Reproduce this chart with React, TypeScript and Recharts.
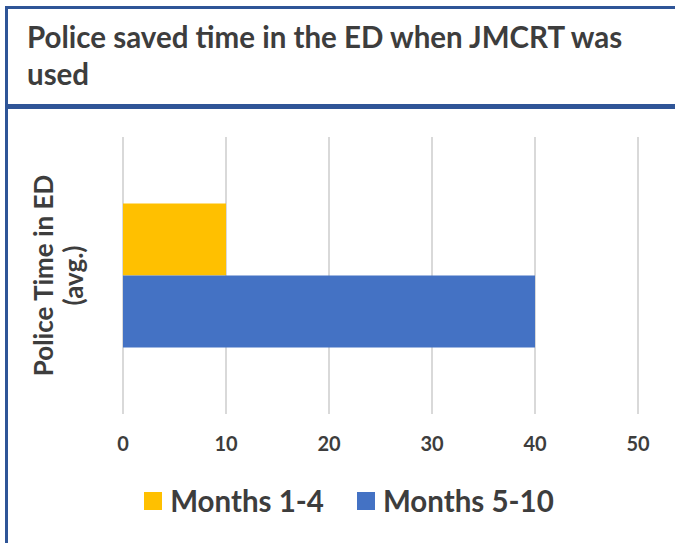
import React from "react";
import { BarChart, Bar, XAxis, YAxis, CartesianGrid, Legend, Label } from "recharts";

const categories = ["Police Time in ED (avg.)"];
const months1to4 = [10];
const months5to10 = [40];
const xTicks = [0, 10, 20, 30, 40, 50];
const seriesNames = ["Months 1-4", "Months 5-10"];
const titleText = "Police saved time in the ED when JMCRT was used";
const yLabelLines = ["Police Time in ED", "(avg.)"];

const data = categories.map((c, i) => ({
  name: c,
  a: months1to4[i],
  b: months5to10[i],
}));

const FONT = "Lato, 'Open Sans', sans-serif";
const TEXT = "#3d3d3d";
const BORDER = "#2F5597";

const YLabel = (props: any) => {
  const vb = props.viewBox || {};
  const cy = vb.y + vb.height / 2;
  const x1 = 43;
  const x2 = 73;
  return (
    <g>
      <text
        x={x1}
        y={cy}
        transform={`rotate(-90 ${x1} ${cy})`}
        textAnchor="middle"
        dominantBaseline="central"
        fontFamily={FONT}
        fontWeight={700}
        fontSize={26}
        fill={TEXT}
      >
        {yLabelLines[0]}
      </text>
      <text
        x={x2}
        y={cy}
        transform={`rotate(-90 ${x2} ${cy})`}
        textAnchor="middle"
        dominantBaseline="central"
        fontFamily={FONT}
        fontWeight={700}
        fontSize={26}
        fill={TEXT}
      >
        {yLabelLines[1]}
      </text>
    </g>
  );
};

const LegendContent = (props: any) => {
  const payload = props.payload || [];
  return (
    <div style={{ display: "flex", justifyContent: "center", alignItems: "center", fontFamily: FONT, paddingLeft: 50 }}>
      {payload.map((p: any, i: number) => (
        <div key={i} style={{ display: "flex", alignItems: "center", marginRight: i === 0 ? 33 : 0 }}>
          <div style={{ width: 18, height: 18, background: p.color, marginRight: 8 }} />
          <span style={{ fontSize: 29.5, fontWeight: 700, color: TEXT }}>{p.value}</span>
        </div>
      ))}
    </div>
  );
};

export default function App() {
  return (
    <div style={{ position: "absolute", left: 0, top: 0, width: 675, height: 543, overflow: "hidden", background: "#fff" }}>
      <div
        style={{
          position: "absolute",
          left: 5,
          top: 6,
          width: 700,
          height: 95,
          border: `3px solid ${BORDER}`,
          boxSizing: "content-box",
        }}
      />
      <div
        style={{
          position: "absolute",
          left: 27,
          top: 18,
          width: 640,
          fontFamily: FONT,
          fontWeight: 700,
          fontSize: 29.5,
          lineHeight: "37px",
          color: TEXT,
        }}
      >
        {titleText}
      </div>
      <div
        style={{
          position: "absolute",
          left: 5,
          top: 106,
          width: 700,
          height: 460,
          border: `3px solid ${BORDER}`,
        }}
      />
      <div style={{ position: "absolute", left: 0, top: 0 }}>
        <BarChart
          width={675}
          height={543}
          data={data}
          layout="vertical"
          margin={{ top: 137, right: 37, bottom: 0, left: 10 }}
          barCategoryGap="24%"
          barGap={0}
        >
          <CartesianGrid horizontal={false} stroke="#d9d9d9" strokeWidth={2} />
          <XAxis
            type="number"
            domain={[0, 50]}
            ticks={xTicks}
            axisLine={false}
            tickLine={false}
            tickMargin={17}
            height={69}
            tick={{ fontFamily: FONT, fontWeight: 700, fontSize: 20, fill: TEXT }}
          />
          <YAxis type="category" dataKey="name" width={113} tick={false} axisLine={false} tickLine={false}>
            <Label content={<YLabel />} />
          </YAxis>
          <Legend verticalAlign="bottom" height={60} content={<LegendContent />} />
          <Bar dataKey="a" name={seriesNames[0]} fill="#FFC000" isAnimationActive={false} />
          <Bar dataKey="b" name={seriesNames[1]} fill="#4472C4" isAnimationActive={false} />
        </BarChart>
      </div>
    </div>
  );
}
